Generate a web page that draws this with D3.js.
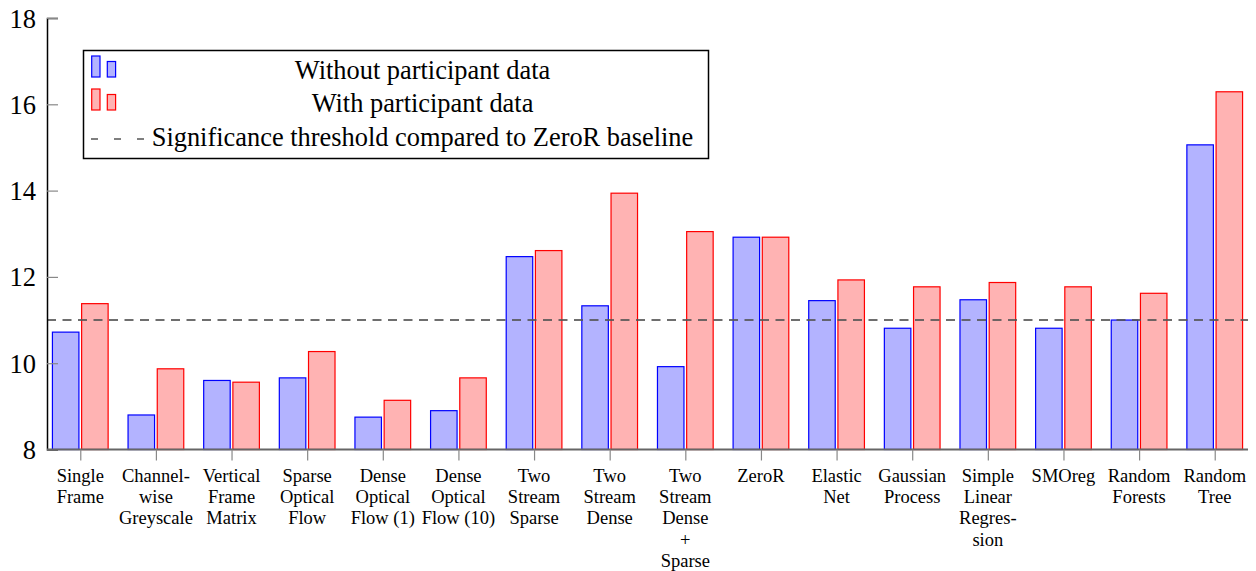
<!DOCTYPE html>
<html>
<head>
<meta charset="utf-8">
<script src="https://cdn.jsdelivr.net/npm/d3@7"></script>
<style>
  body { margin: 0; background: #fff; }
  svg text { font-family: "Liberation Serif", "Times New Roman", serif; fill: #000; }
</style>
</head>
<body>
<div id="chart"></div>
<script>
// Data
const categories = [
    ["Single", "Frame"],
    ["Channel-", "wise", "Greyscale"],
    ["Vertical", "Frame", "Matrix"],
    ["Sparse", "Optical", "Flow"],
    ["Dense", "Optical", "Flow (1)"],
    ["Dense", "Optical", "Flow (10)"],
    ["Two", "Stream", "Sparse"],
    ["Two", "Stream", "Dense"],
    ["Two", "Stream", "Dense", "+", "Sparse"],
    ["ZeroR"],
    ["Elastic", "Net"],
    ["Gaussian", "Process"],
    ["Simple", "Linear", "Regres-", "sion"],
    ["SMOreg"],
    ["Random", "Forests"],
    ["Random", "Tree"]
];
const withoutParticipant = [10.72, 8.80, 9.60, 9.66, 8.75, 8.90, 12.47, 11.33, 9.92, 12.92, 11.45, 10.81, 11.47, 10.81, 11.00, 15.06];
const withParticipant = [11.38, 9.87, 9.56, 10.27, 9.14, 9.66, 12.61, 13.94, 13.05, 12.92, 11.93, 11.77, 11.87, 11.77, 11.62, 16.29];
const threshold = 11.0;
const yTicks = [8, 10, 12, 14, 16, 18];
const legendLabels = ["Without participant data", "With participant data", "Significance threshold compared to ZeroR baseline"];

const svgWidth = 1256, svgHeight = 571;
const margin = { left: 47, right: 8, top: 18, bottom: 121 };
const serif = "'Liberation Serif', 'Times New Roman', serif";

const svg = d3.select("#chart")
    .append("svg")
    .attr("width", svgWidth)
    .attr("height", svgHeight);

// Scales
const x = d3.scalePoint()
    .domain(d3.range(categories.length))
    .range([margin.left, svgWidth - margin.right])
    .padding(0.44);

const y = d3.scaleLinear()
    .domain([8, 18])
    .range([svgHeight - margin.bottom - 0.5, margin.top]);

const barWidth = 26.5;
const barOffset = 14.6;

// Bars
const series = [
    { values: withoutParticipant, fill: "#b3b3ff", stroke: "#0000ff", shift: -barOffset },
    { values: withParticipant, fill: "#ffb3b3", stroke: "#ff0000", shift: barOffset }
];

series.forEach(s => {
    svg.append("g")
        .selectAll("rect")
        .data(s.values)
        .enter().append("rect")
        .attr("x", (d, i) => x(i) + s.shift - barWidth / 2)
        .attr("y", d => y(d))
        .attr("width", barWidth)
        .attr("height", d => y(8) - y(d))
        .attr("fill", s.fill)
        .attr("stroke", s.stroke)
        .attr("stroke-width", 1.2);
});

// Threshold line
svg.append("line")
    .attr("x1", margin.left)
    .attr("x2", svgWidth - margin.right)
    .attr("y1", y(threshold))
    .attr("y2", y(threshold))
    .attr("stroke", "#555")
    .attr("stroke-opacity", 0.85)
    .attr("stroke-width", 2)
    .attr("stroke-dasharray", "9,6.5");

// Y axis
const yAxis = svg.append("g")
    .attr("transform", `translate(${margin.left},0)`)
    .call(d3.axisLeft(y).tickValues(yTicks).tickSize(-11));
yAxis.attr("font-family", null).attr("font-size", null);
yAxis.select(".domain").attr("stroke", "#000").attr("stroke-width", 1.5);
yAxis.selectAll(".tick line").attr("stroke", "#888").attr("stroke-width", 1.2);
yAxis.selectAll(".tick text")
    .style("font-family", serif)
    .style("font-size", "26.5px")
    .attr("x", -11)
    .attr("dy", "0.34em");

// X axis
const xAxis = svg.append("g")
    .attr("transform", `translate(0,${y(8)})`)
    .call(d3.axisBottom(x).tickSize(11).tickFormat(""));
xAxis.select(".domain").attr("stroke", "#666").attr("stroke-width", 2)
    .attr("d", `M${margin.left},0H${svgWidth - margin.right}`);
xAxis.selectAll(".tick line").attr("stroke", "#888").attr("stroke-width", 1.2);

// Category labels
const labels = svg.append("g")
    .selectAll("text")
    .data(categories)
    .enter().append("text")
    .attr("text-anchor", "middle")
    .style("font-family", serif)
    .style("font-size", "18.5px")
    .attr("transform", (d, i) => `translate(${x(i)},${y(8) + 32.5})`);
labels.selectAll("tspan")
    .data(d => d)
    .enter().append("tspan")
    .attr("x", 0)
    .attr("y", (d, i) => i * 21.2)
    .text(d => d);

// Legend
const legend = svg.append("g");
legend.append("rect")
    .attr("x", 83.5)
    .attr("y", 50.5)
    .attr("width", 625)
    .attr("height", 108)
    .attr("fill", "#fff")
    .attr("stroke", "#000")
    .attr("stroke-width", 1.5);

const rowY = [67, 100, 133.5];
series.forEach((s, k) => {
    legend.append("rect")
        .attr("x", 91.7).attr("y", rowY[k] - 11)
        .attr("width", 8.3).attr("height", 21)
        .attr("fill", s.fill).attr("stroke", s.stroke).attr("stroke-width", 1.2);
    legend.append("rect")
        .attr("x", 107.3).attr("y", rowY[k] - 5.5)
        .attr("width", 8.3).attr("height", 15.5)
        .attr("fill", s.fill).attr("stroke", s.stroke).attr("stroke-width", 1.2);
});
legend.append("line")
    .attr("x1", 91).attr("x2", 145)
    .attr("y1", rowY[2] + 5.5).attr("y2", rowY[2] + 5.5)
    .attr("stroke", "#000")
    .attr("stroke-width", 1.2)
    .attr("stroke-dasharray", "7,16");

legend.selectAll("text.legend")
    .data(legendLabels)
    .enter().append("text")
    .attr("class", "legend")
    .attr("x", 422.5)
    .attr("y", (d, i) => rowY[i] + 12)
    .attr("text-anchor", "middle")
    .style("font-family", serif)
    .style("font-size", "26.4px")
    .text(d => d);
</script>
</body>
</html>
